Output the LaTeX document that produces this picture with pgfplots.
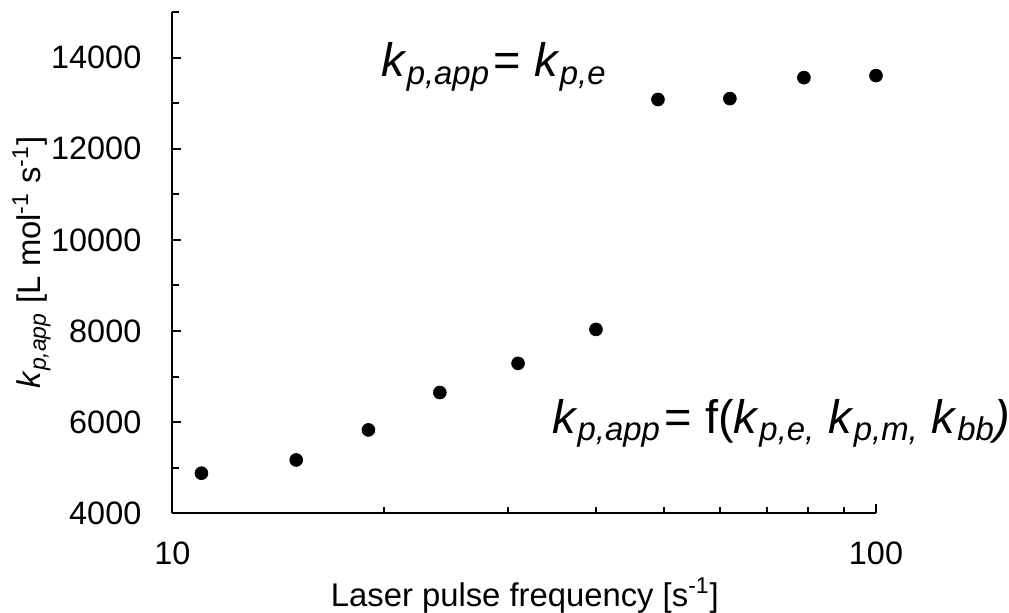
\documentclass[border=0pt]{standalone}
\usepackage{fontspec}
\setmainfont{Liberation Sans}
\usepackage{pgfplots}
\pgfplotsset{compat=1.18}
\newcommand{\ks}[1]{\textit{k}\textsubscript{\textit{#1}}}
\begin{document}
\begin{tikzpicture}
\path[use as bounding box] (-86.15pt,-49.35pt) rectangle (418.35pt,256.65pt);
\begin{axis}[
  xmode=log,
  scale only axis, width=351.85pt, height=250.65pt,
  xmin=10, xmax=100, ymin=4000, ymax=15000,
  axis lines=left, axis line style={-, line width=1pt},
  clip=false,
  tick align=inside, major tick length=4.6pt, minor tick length=3.4pt,
  every tick/.style={black, line width=1pt},
  xtick={10,100}, xticklabels={10,100},
  minor xtick={20,30,40,50,60,70,80,90},
  ytick={4000,6000,8000,10000,12000,14000},
  minor ytick={5000,7000,9000,11000,13000,15000},
  scaled y ticks=false,
  /pgf/number format/assume math mode=true,
  /pgf/number format/1000 sep={},
  ticklabel style={font=\fontsize{16.2}{19}\selectfont},
  xticklabel style={anchor=base, inner sep=0pt, yshift=-25.35pt},
  yticklabel style={anchor=east, inner sep=0pt, xshift=-15.3pt},
  label style={font=\fontsize{16.4}{19}\selectfont},
  xlabel={Laser pulse frequency [s\textsuperscript{-1}]},
  xlabel style={at={(axis description cs:0.501,-0.185)}, anchor=base},
  ylabel={\ks{p,app} [L mol\textsuperscript{-1} s\textsuperscript{-1}]},
  ylabel style={at={(axis description cs:-0.187,0.5)}, anchor=base},
]
\addplot[only marks, mark=*, mark size=3.2pt, mark options={fill=black, draw=black}] coordinates {
(11,4880) (15,5170) (19,5830) (24,6650) (31,7290) (40,8035)
(49,13080) (62,13100) (79,13560) (100,13605)
};
\node[anchor=base west, inner sep=0pt, font=\fontsize{23.5}{28}\selectfont] at (rel axis cs:0.2964,0.871) {\ks{p,app}\kern0.08em= \ks{p,e}};
\node[anchor=base west, inner sep=0pt, font=\fontsize{23.5}{28}\selectfont] at (rel axis cs:0.5393,0.1596) {\ks{p,app}\kern0.08em= f(\ks{p,e,} \ks{p,m,} \ks{bb}\textit{)}};
\end{axis}
\end{tikzpicture}
\end{document}
